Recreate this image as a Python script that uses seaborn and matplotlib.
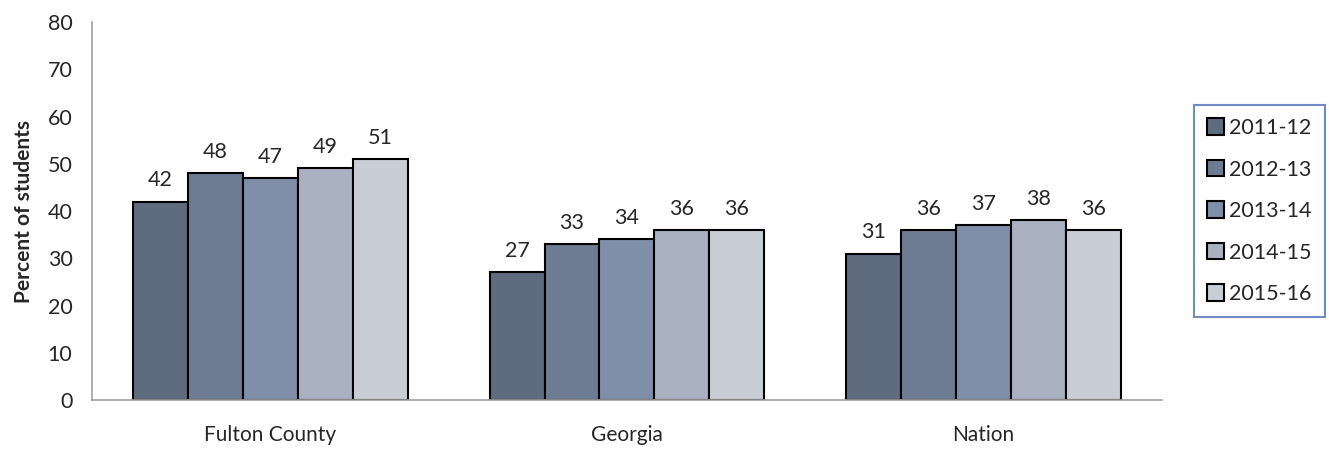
import numpy as np
import pandas as pd
import matplotlib.pyplot as plt
import seaborn as sns

# data
regions = ["Fulton County", "Georgia", "Nation"]
years = ["2011-12", "2012-13", "2013-14", "2014-15", "2015-16"]
fulton = [42, 48, 47, 49, 51]
georgia = [27, 33, 34, 36, 36]
nation = [31, 36, 37, 38, 36]
colors = ["#5f6b7f", "#6e7c93", "#7f8fa9", "#a9b1c1", "#c9cdd6"]

df = pd.DataFrame({
    "region": np.repeat(regions, len(years)),
    "year": years * len(regions),
    "value": fulton + georgia + nation,
})

sns.set_style("white")
plt.rcParams['font.family'] = ['Lato', 'DejaVu Sans']

fig = plt.figure(figsize=(13.29, 4.49), dpi=100)
ax = fig.add_axes([0.0692, 0.109, 0.805, 0.842])

sns.barplot(data=df, x="region", y="value", hue="year", palette=colors,
            width=0.77, edgecolor="black", linewidth=1.5, saturation=1, ax=ax)

for c in ax.containers:
    ax.bar_label(c, fmt="%d", padding=8, fontsize=15.5)

ax.set_ylim(0, 80)
ax.set_yticks(range(0, 81, 10))
ax.set_xlabel("")
ax.set_ylabel("Percent of students", fontsize=15, fontweight="bold", labelpad=10)
ax.tick_params(axis="y", labelsize=15.5, length=0, pad=14)
ax.tick_params(axis="x", labelsize=15, length=0, pad=18)
for s in ["top", "right"]:
    ax.spines[s].set_visible(False)
for s in ["left", "bottom"]:
    ax.spines[s].set_color("#a0a0a0")
    ax.spines[s].set_linewidth(1.2)

leg = ax.legend(loc="center left", bbox_to_anchor=(1.02, 0.5), fontsize=15.5,
                frameon=True, fancybox=False, handlelength=0.8, handleheight=0.8,
                handletextpad=0.25, labelspacing=1.0, borderpad=0.6)
leg.get_frame().set_edgecolor("#4f6db8")
leg.get_frame().set_linewidth(1.5)

fig.savefig("out.png", dpi=100)
